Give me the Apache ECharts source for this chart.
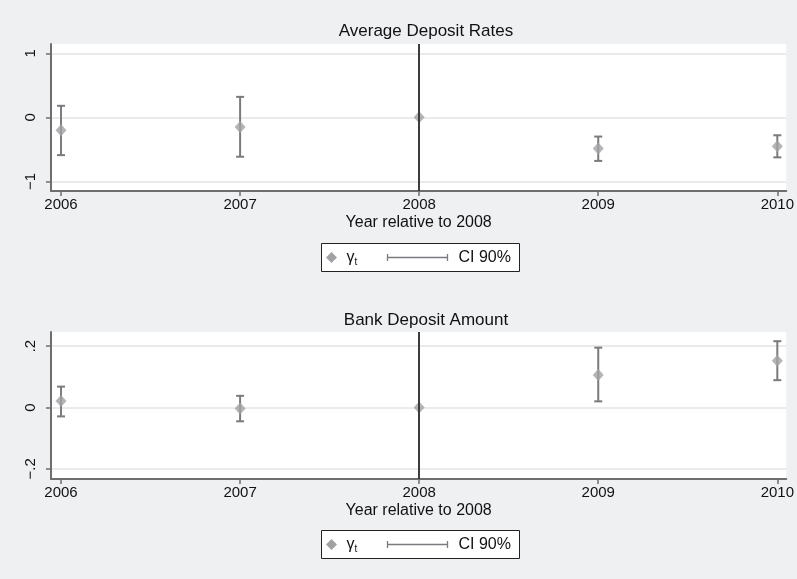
<!DOCTYPE html>
<html>
<head>
<meta charset="utf-8">
<script src="https://cdn.jsdelivr.net/npm/echarts@6/dist/echarts.min.js"></script>
<style>
  html, body { margin: 0; padding: 0; background: #eef0f2; }
  #chart { width: 797px; height: 579px; }
</style>
</head>
<body>
<div id="chart"></div>
<script>
// Event-study estimates (gamma_t) with 90% confidence intervals
const years = [2006, 2007, 2008, 2009, 2010];
const baseYear = 2008;

const rateEst = [-0.20, -0.15, 0, -0.485, -0.45];
const rateLo  = [-0.59, -0.615, 0, -0.68, -0.625];
const rateHi  = [0.18, 0.32, 0, -0.30, -0.28];

const amountEst = [0.021, -0.003, 0, 0.106, 0.152];
const amountLo  = [-0.029, -0.045, 0, 0.020, 0.089];
const amountHi  = [0.068, 0.038, 0, 0.195, 0.216];

const rateTicks = [-1, 0, 1];
const amountTicks = [-0.2, 0, 0.2];

const panelTitles = ['Average Deposit Rates', 'Bank Deposit Amount'];
const xTitle = 'Year relative to 2008';
const legendLabels = ['γ', 't', 'CI 90%'];

const FONT = 'Liberation Sans, Arial, Helvetica, sans-serif';
const AXIS_GRAY = '#6e6e6e';
const POINT_GRAY = '#a2a2a6';
const BAR_GRAY = '#7a7a7f';

function fmtY(v) {
  if (Math.abs(v) < 1e-9) return '0';
  let s = Math.abs(v) >= 1 ? String(Math.abs(v)) : String(Math.abs(v)).replace(/^0/, '');
  return (v < 0 ? '\u2212' : '') + s;
}

const grids = [
  { left: 51, right: 7, top: 44, height: 147 },
  { left: 51, right: 7, top: 332, height: 147 }
];

function xAxisDef(gi) {
  return {
    type: 'value', gridIndex: gi, min: 2005.944, max: 2010.05,
    name: xTitle, nameLocation: 'middle', nameGap: 24,
    nameTextStyle: { color: '#111', fontSize: 16, fontFamily: FONT },
    axisLine: { show: true, onZero: false, lineStyle: { color: AXIS_GRAY, width: 2 } },
    axisTick: { show: true, length: 5, customValues: years, lineStyle: { color: AXIS_GRAY, width: 1.5 } },
    axisLabel: { customValues: years, color: '#111', fontSize: 15, fontFamily: FONT, margin: 6,
                 formatter: v => String(Math.round(v)) },
    splitLine: { show: false }
  };
}

function yAxisDef(gi, min, max, ticks) {
  return {
    type: 'value', gridIndex: gi, min: min, max: max,
    axisLine: { show: true, onZero: false, lineStyle: { color: AXIS_GRAY, width: 2 } },
    axisTick: { show: true, length: 5, customValues: ticks, lineStyle: { color: AXIS_GRAY, width: 1.5 } },
    axisLabel: { customValues: ticks, rotate: 90, color: '#111', fontSize: 15, fontFamily: FONT, margin: 13,
                 formatter: fmtY },
    splitLine: { show: true, lineStyle: { color: '#e4e4e6', width: 1.5 } }
  };
}

function ciSeries(gi, lo, hi) {
  return {
    type: 'custom', xAxisIndex: gi, yAxisIndex: gi, z: 3,
    data: years.map((y, i) => [y, lo[i], hi[i]]).filter(d => d[1] !== d[2]),
    renderItem: function (params, api) {
      const top = api.coord([api.value(0), api.value(2)]);
      const bot = api.coord([api.value(0), api.value(1)]);
      const cap = 4;
      const style = { stroke: BAR_GRAY, lineWidth: 2 };
      return {
        type: 'group',
        children: [
          { type: 'line', shape: { x1: top[0], y1: top[1], x2: bot[0], y2: bot[1] }, style: style },
          { type: 'line', shape: { x1: top[0] - cap, y1: top[1], x2: top[0] + cap, y2: top[1] }, style: style },
          { type: 'line', shape: { x1: bot[0] - cap, y1: bot[1], x2: bot[0] + cap, y2: bot[1] }, style: style }
        ]
      };
    }
  };
}

function pointSeries(gi, est) {
  return {
    type: 'scatter', xAxisIndex: gi, yAxisIndex: gi, z: 4,
    symbol: 'diamond', symbolSize: [11, 12],
    itemStyle: { color: POINT_GRAY },
    data: years.map((y, i) => [y, est[i]]),
    markLine: {
      silent: true, symbol: 'none', label: { show: false },
      lineStyle: { color: '#3c3c3c', width: 2, type: 'solid' },
      data: [{ xAxis: baseYear }]
    }
  };
}

function legendBox(top) {
  return {
    type: 'group', left: 321, top: top,
    children: [
      { type: 'rect', shape: { x: 0, y: 0, width: 198, height: 28 },
        style: { fill: '#fff', stroke: '#222', lineWidth: 1 } },
      { type: 'polygon', shape: { points: [[10, 8.5], [15.5, 14], [10, 19.5], [4.5, 14]] },
        style: { fill: POINT_GRAY } },
      { type: 'text', x: 25, y: 14,
        style: { text: '{g|' + legendLabels[0] + '}{s|' + legendLabels[1] + '}',
                 verticalAlign: 'middle',
                 rich: { g: { fontSize: 16, fontFamily: FONT, fill: '#111' },
                         s: { fontSize: 10, fontFamily: FONT, fill: '#111', padding: [9, 0, 0, 0] } } } },
      { type: 'line', shape: { x1: 66, y1: 14, x2: 126, y2: 14 }, style: { stroke: BAR_GRAY, lineWidth: 1.3 } },
      { type: 'line', shape: { x1: 66, y1: 10.5, x2: 66, y2: 17.5 }, style: { stroke: BAR_GRAY, lineWidth: 1.3 } },
      { type: 'line', shape: { x1: 126, y1: 10.5, x2: 126, y2: 17.5 }, style: { stroke: BAR_GRAY, lineWidth: 1.3 } },
      { type: 'text', x: 137, y: 14,
        style: { text: legendLabels[2], fontSize: 16, fontFamily: FONT, fill: '#111', verticalAlign: 'middle' } }
    ]
  };
}

const chart = echarts.init(document.getElementById('chart'), null, { renderer: 'canvas' });
chart.setOption({
  backgroundColor: '#eef0f2',
  animation: false,
  title: [
    { text: panelTitles[0], left: 421, top: 18, textAlign: 'center',
      textStyle: { fontSize: 17, fontWeight: 'normal', color: '#111', fontFamily: FONT } },
    { text: panelTitles[1], left: 421, top: 307, textAlign: 'center',
      textStyle: { fontSize: 17, fontWeight: 'normal', color: '#111', fontFamily: FONT } }
  ],
  grid: grids.map(g => Object.assign({ show: true, backgroundColor: '#fff', borderWidth: 0 }, g)),
  xAxis: [xAxisDef(0), xAxisDef(1)],
  yAxis: [yAxisDef(0, -1.15, 1.145, rateTicks), yAxisDef(1, -0.233, 0.246, amountTicks)],
  series: [
    ciSeries(0, rateLo, rateHi),
    pointSeries(0, rateEst),
    ciSeries(1, amountLo, amountHi),
    pointSeries(1, amountEst)
  ],
  graphic: [legendBox(243), legendBox(530)]
});
</script>
</body>
</html>
